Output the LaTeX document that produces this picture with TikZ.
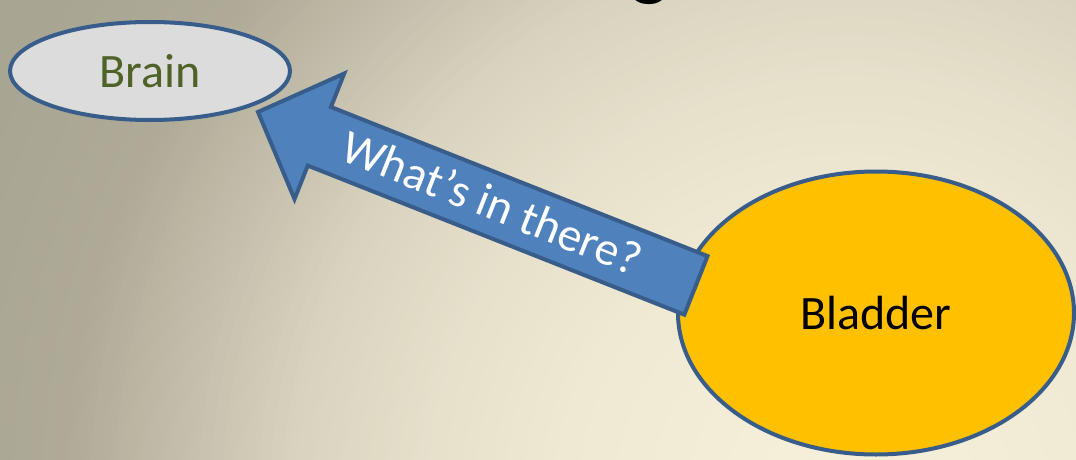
\documentclass[tikz,border=0pt]{standalone}
\usepackage{fontspec}
\setmainfont{Carlito}
\usetikzlibrary{shapes.geometric}
\definecolor{bgA}{HTML}{F7F1DB}
\definecolor{bgB}{HTML}{EFE9D3}
\definecolor{bgC}{HTML}{E6E0CB}
\definecolor{bgD}{HTML}{D8D2BE}
\definecolor{bgE}{HTML}{AEAA97}
\definecolor{bgF}{HTML}{A8A592}
\definecolor{edgeblue}{HTML}{385D8A}
\definecolor{arrowblue}{HTML}{4F81BD}
\definecolor{brainfill}{HTML}{DCDCDC}
\definecolor{braintext}{HTML}{4F6228}
\definecolor{bladderfill}{HTML}{FFC000}
\tikzset{
  organ/.style={ellipse, draw=edgeblue, line width=4pt, inner sep=0pt, font=\fontsize{48}{48}\selectfont},
  blockarrow/.style={fill=arrowblue, draw=edgeblue, line width=4pt, line join=miter},
  arrowtext/.style={text=white, font=\fontsize{47.5}{47.5}\selectfont, inner sep=0pt},
}
\begin{document}
\begin{tikzpicture}[x=1pt,y=-1pt]
\useasboundingbox (0,0) rectangle (1076,460);
\clip (0,0) rectangle (1076,460);
% radial background, drawn as fine concentric rings
\foreach \ra/\rb/\ci/\co in {940/1050/bgF/bgF, 790/940/bgE/bgF, 560/790/bgD/bgE, 430/560/bgC/bgD, 290/430/bgB/bgC, 0/290/bgA/bgB}{
  \pgfmathtruncatemacro\rs{\rb-6}
  \foreach \r in {\rb,\rs,...,\ra}{
    \pgfmathtruncatemacro\p{(\r-\ra)/(\rb-\ra)*100}
    \fill[\co!\p!\ci] (850,500) circle (\r pt);
  }
}
% cut-off title fragment
\node[anchor=base, inner sep=0pt, font=\fontsize{82}{82}\selectfont] (title) at (650,-9) {g};
% nodes
\node[organ, fill=brainfill, text=braintext, minimum width=280pt, minimum height=98pt] (brain) at (150,71) {Brain};
\node[organ, fill=bladderfill, text=black, minimum width=396pt, minimum height=283pt] (bladder) at (876,313) {Bladder};
% block arrow from bladder to brain
\coordinate (tip) at (258,112);
\begin{scope}[shift={(tip)}, rotate=-21.6]
  \draw[blockarrow] (0,0) -- (66,-67.5) -- (66,-31.5) -- (471,-31.5) -- (471,31.5) -- (66,31.5) -- (66,67.5) -- cycle;
  \node[arrowtext, rotate=-21.6] (question) at (251,-2) {What’s in there?};
\end{scope}
\end{tikzpicture}
\end{document}
